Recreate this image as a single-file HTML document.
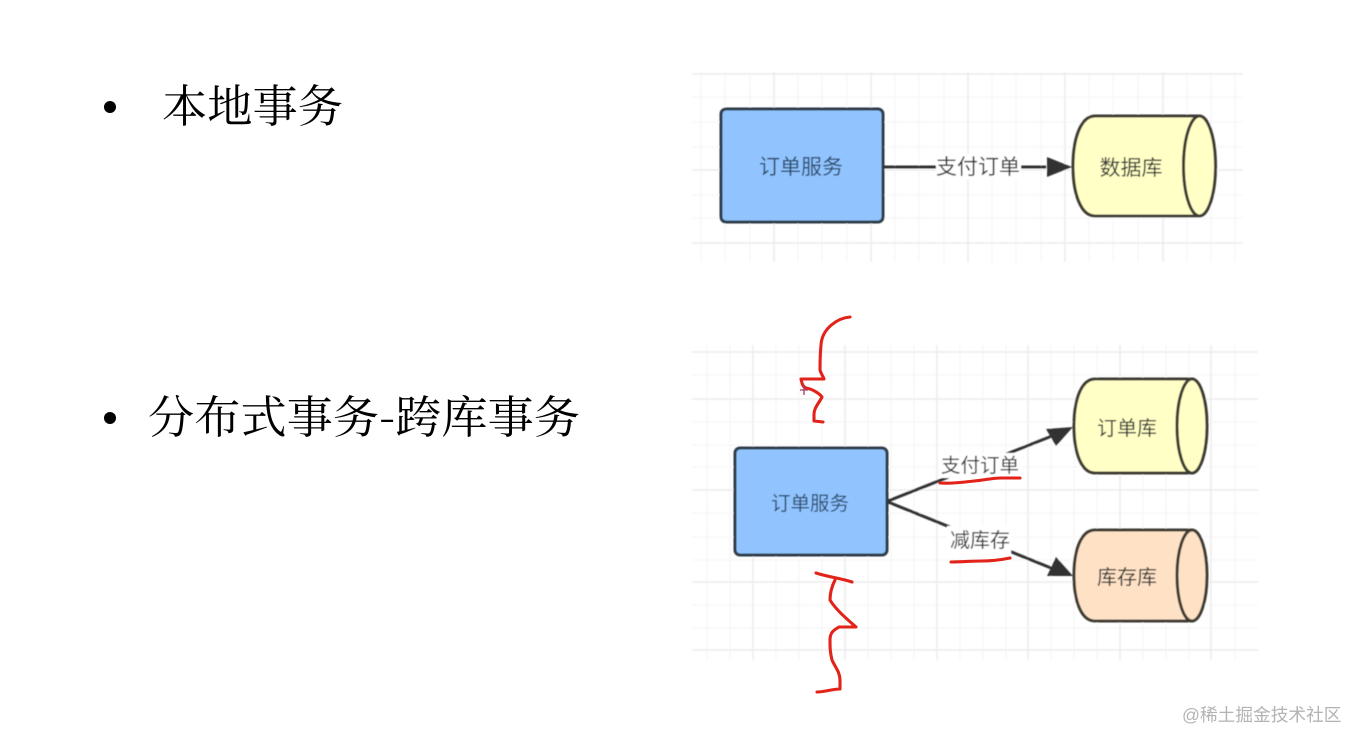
<!DOCTYPE html>
<html lang="zh">
<head>
<meta charset="utf-8">
<title>本地事务与分布式事务</title>
<style>
html,body{margin:0;padding:0;background:#fff;width:1364px;height:746px;overflow:hidden}
svg{display:block}
text{font-family:"Liberation Sans","Noto Sans CJK SC",sans-serif}
.t{font-family:"Noto Serif CJK SC","Liberation Serif",serif;font-size:45px;fill:#000}
.l{font-size:20.500px;fill:#333;text-anchor:middle}
.m{stroke:#ececec;stroke-width:1.5;fill:none}
.n{stroke:#f5f5f5;stroke-width:1;fill:none}
.r{stroke:#e2231a;stroke-width:3.100;fill:none;stroke-linecap:round;stroke-linejoin:round}
</style>
</head>
<body>
<svg width="1364" height="746" viewBox="0 0 1364 746" xmlns="http://www.w3.org/2000/svg">
<rect width="1364" height="746" fill="#fff"/>
<defs><filter id="b" x="-5%" y="-5%" width="110%" height="110%"><feGaussianBlur stdDeviation="0.6"/></filter></defs>

<circle cx="110" cy="107" r="6" fill="#000"/>
<text class="t" x="162" y="122" textLength="181" lengthAdjust="spacingAndGlyphs">本地事务</text>
<circle cx="110" cy="418" r="6" fill="#000"/>
<text class="t" x="148" y="433" textLength="432" lengthAdjust="spacingAndGlyphs">分布式事务-跨库事务</text>

<g filter="url(#b)">
<!-- top grid -->
<path class="n" d="M701 72V262M725 72V262M750 72V262M798 72V262M822 72V262M847 72V262M895 72V262M919 72V262M944 72V262M992 72V262M1016 72V262M1041 72V262M1089 72V262M1113 72V262M1138 72V262M1187 72V262M1211 72V262M1235 72V262"/>
<path class="n" d="M692 97H1243M692 122H1243M692 147H1243M692 195H1243M692 218H1243"/>
<path class="m" d="M774 72V262M871 72V262M968 72V262M1065 72V262M1163 72V262"/>
<path class="m" d="M692 74H1243M692 170H1243M692 243H1243"/>

<!-- top diagram -->
<rect x="721" y="109" width="162" height="113" rx="5" fill="#91c4ff" stroke="#2e3a46" stroke-width="3"/>
<text class="l" x="801" y="174" style="fill:#2c4a6a;font-size:21px">订单服务</text>
<path d="M884 167H1046" stroke="#333" stroke-width="3"/>
<path d="M1047 157L1072 167L1047 177Z" fill="#333"/>
<rect x="936" y="154" width="85" height="26" fill="#fff"/>
<text class="l" x="978" y="174" style="font-size:21px">支付订单</text>
<path d="M1199 116H1095C1081 116 1073 138 1073 166C1073 194 1081 216 1095 216H1199Z" fill="#ffffc6" stroke="#3c3a30" stroke-width="3"/>
<ellipse cx="1199.500" cy="166" rx="16" ry="50" fill="#ffffc6" stroke="#3c3a30" stroke-width="3"/>
<text class="l" x="1131" y="175" style="font-size:21px">数据库</text>

<!-- bottom grid -->
<path class="n" d="M707 345V660M730 345V660M776 345V660M799 345V660M822 345V660M868 345V660M891 345V660M914 345V660M960 345V660M983 345V660M1006 345V660M1051 345V660M1074 345V660M1097 345V660M1143 345V660M1166 345V660M1189 345V660M1235 345V660"/>
<path class="n" d="M692 375H1258M692 422H1258M692 445H1258M692 467H1258M692 513H1258M692 537H1258M692 560H1258M692 605H1258M692 628H1258"/>
<path class="m" d="M753 345V660M845 345V660M937 345V660M1028 345V660M1120 345V660M1211 345V660"/>
<path class="m" d="M692 352H1258M692 399H1258M692 490H1258M692 582H1258M692 650H1258"/>

<!-- bottom diagram -->
<rect x="735" y="448" width="152" height="107" rx="5" fill="#91c4ff" stroke="#2e3a46" stroke-width="3"/>
<text class="l" x="810" y="510" style="fill:#2c4a6a;font-size:19.500px">订单服务</text>
<path d="M888 501L1052 436" stroke="#333" stroke-width="3"/>
<path d="M1046 429L1056 446L1073 427Z" fill="#333"/>
<path d="M888 502L1056 570" stroke="#333" stroke-width="3"/>
<path d="M1056 557L1047 576L1073 576Z" fill="#333"/>
<rect x="938" y="453" width="85" height="25" fill="#fff"/>
<text class="l" x="980" y="472" style="font-size:19.500px">支付订单</text>
<rect x="947" y="526" width="64" height="30" fill="#fff"/>
<text class="l" x="980" y="547" style="font-size:20px">减库存</text>

<path d="M1192 379H1095C1082 379 1074 398 1074 426C1074 454 1082 473 1095 473H1192Z" fill="#ffffc6" stroke="#3c3a30" stroke-width="3"/>
<ellipse cx="1192" cy="426" rx="15" ry="47" fill="#ffffc6" stroke="#3c3a30" stroke-width="3"/>
<text class="l" x="1127" y="435" style="font-size:20px">订单库</text>

<path d="M1192 530H1095C1082 530 1074 548 1074 575C1074 603 1082 621 1095 621H1192Z" fill="#ffe2c6" stroke="#3c3a30" stroke-width="3"/>
<ellipse cx="1192" cy="575.500" rx="15" ry="45.500" fill="#ffe2c6" stroke="#3c3a30" stroke-width="3"/>
<text class="l" x="1127" y="584" style="font-size:20px">库存库</text>
</g>

<!-- red ink -->
<path class="r" d="M850 317C838 318 822 328 821 345C820 355 820 365 820 370C821 374 823 376 824 379L801 379C802 384 803 387 806 388C812 389 819 393 822 397C819 403 814 408 814 414L814 421L823 422"/>
<path d="M800 390H808M804 385V395" stroke="#a0406a" stroke-width="1.300" fill="none"/>
<path class="r" d="M816 573C828 577 840 578 852 582M835 580C832 586 830 592 830 600C836 610 848 620 856 627H839C834 630 830 632 830 640C830 647 830 652 832 660C835 667 840 672 840 680V689C832 689 825 692 817 692"/>
<path class="r" d="M940 483C952 484 965 482 974 481C985 480 992 478 1001 478H1020"/>
<path class="r" d="M951 562C962 562 972 561 982 561C992 561 1000 560 1010 558"/>

<text x="1182" y="721" style="font-size:17.700px;fill:#b3b3b3">@稀土掘金技术社区</text>
</svg>
</body>
</html>
